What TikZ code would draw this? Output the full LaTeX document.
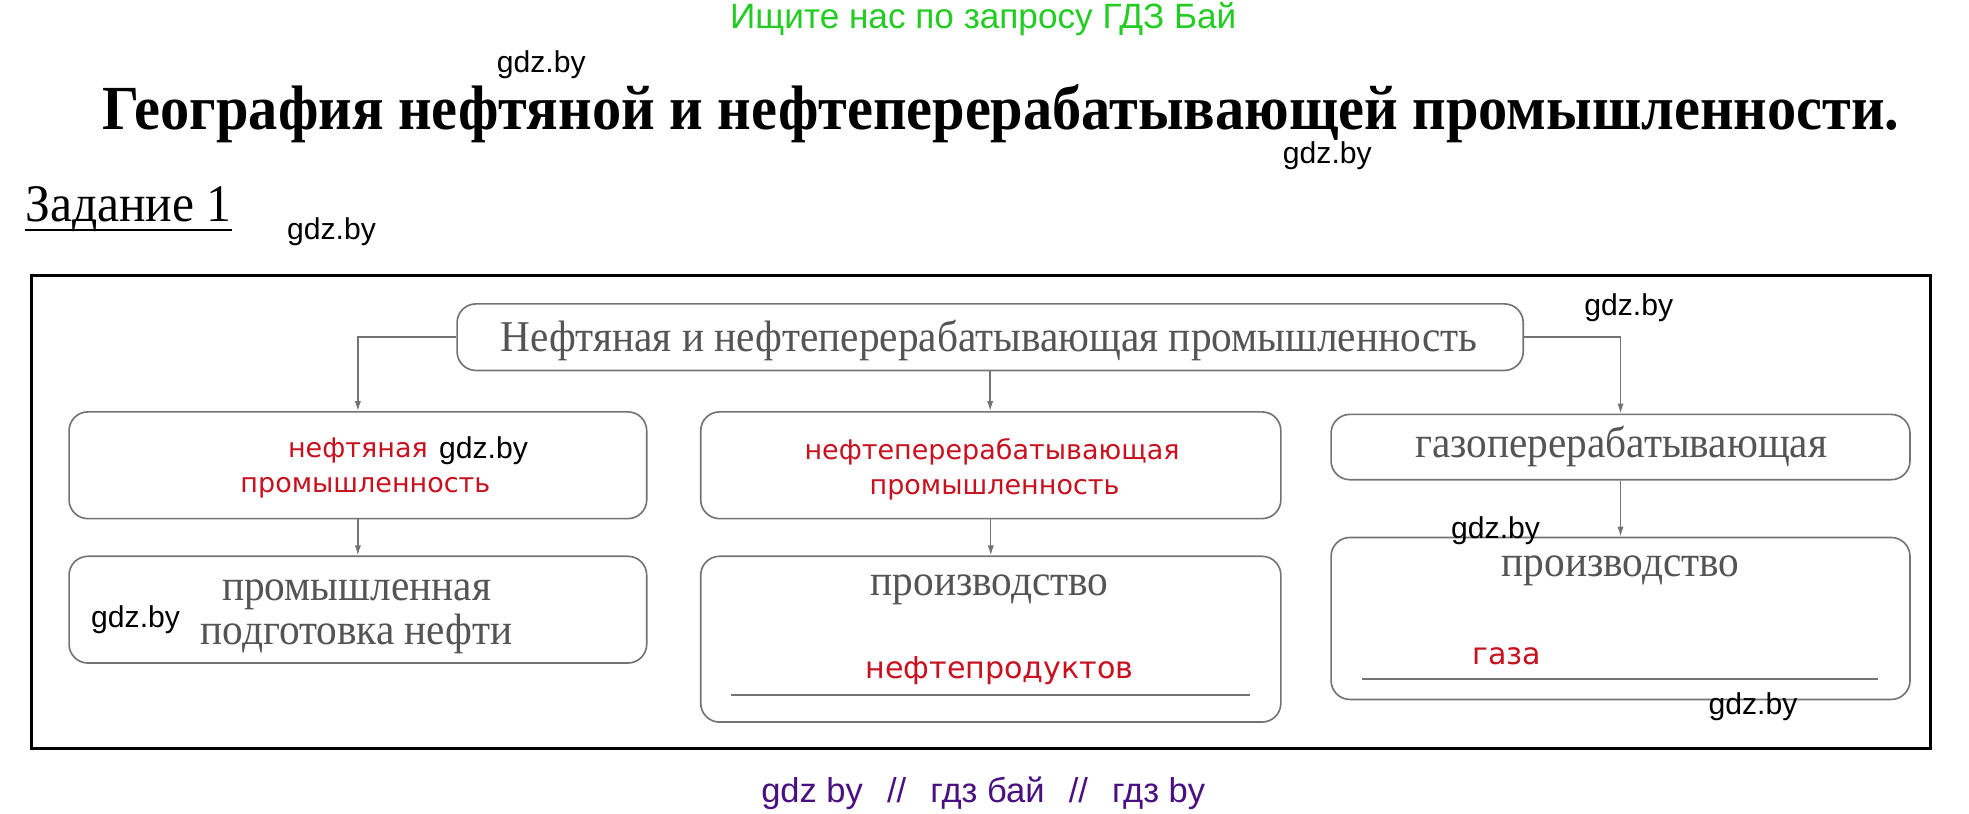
\documentclass[tikz,border=0pt]{standalone}
\usepackage{fontspec}
\usepackage{xcolor}
\setmainfont{Liberation Serif}
\newfontfamily\condSerif[FakeStretch=0.94]{Liberation Serif}
\newfontfamily\titleSerif[FakeStretch=0.93]{Liberation Serif}
\newfontfamily\wmfont{Liberation Sans}
\newfontfamily\redfont{DejaVu Sans}
\definecolor{boxGray}{gray}{0.45}
\definecolor{txtGray}{gray}{0.33}
\definecolor{ansRed}{RGB}{200,16,30}
\definecolor{siteGreen}{RGB}{34,204,34}
\definecolor{sitePurple}{RGB}{74,16,130}
\usetikzlibrary{arrows.meta,calc}
\tikzset{
  box/.style={draw=boxGray, line width=1.3pt, rounded corners=15pt, inner sep=0pt},
  arr/.style={draw=boxGray, line width=1.1pt, -{Latex[length=8pt,width=5pt]}},
  grayText/.style={text=txtGray, anchor=base, inner sep=0pt, font=\condSerif\fontsize{35}{38}\selectfont},
  redText/.style={text=ansRed, anchor=base, inner sep=0pt, font=\redfont\fontsize{21.5}{24}\selectfont},
  wm/.style={anchor=base, inner sep=0pt, font=\wmfont\fontsize{24}{26}\selectfont}
}

\begin{document}
\begin{tikzpicture}[x=1pt, y=-1pt]
        \useasboundingbox (0,0) rectangle (1568,648.2);
        % header
        \node [anchor=base, inner sep=0pt, text=siteGreen, font=\wmfont\fontsize{28}{30}\selectfont] (site) at (783,23) {Ищите нас по запросу ГДЗ Бай};
        \node [anchor=base, inner sep=0pt, font=\titleSerif\bfseries\fontsize{50}{54}\selectfont] (title) at (797,103) {География нефтяной и нефтеперерабатывающей промышленности.};
        \node [anchor=base west, inner sep=0pt, font=\condSerif\fontsize{42}{44}\selectfont] (task) at (20,176) {Задание 1};
        \draw [line width=2pt] (task.base west) ++(0,7) -- ($(task.base east)+(0,7)$);
        % frame
        \draw [line width=2.4pt] (25,219) rectangle (1537,596);
        % boxes
        \node [box, minimum width=849pt, minimum height=53pt] (top) at (788.5,268.5) {};
        \node [box, minimum width=460pt, minimum height=85pt] (b1) at (285,370.5) {};
        \node [box, minimum width=462pt, minimum height=85pt] (b2) at (789,370.5) {};
        \node [box, minimum width=461pt, minimum height=52pt] (b3) at (1290.5,356) {};
        \node [box, minimum width=460pt, minimum height=85pt] (b4) at (285,485.5) {};
        \node [box, minimum width=462pt, minimum height=132pt] (b5) at (789,509) {};
        \node [box, minimum width=461pt, minimum height=129pt] (b6) at (1290.5,492.5) {};
        % arrows
        \draw [arr] (top.west) -| (b1.north);
        \draw [arr] (top.east) -| (b3.north);
        \draw [arr] (top.south) -- (top.south |- b2.north);
        \draw [arr] (b1.south) -- (b4.north);
        \draw [arr] (b2.south) -- (b5.north);
        \draw [arr] (b3.south) -- (b6.north);
        % answer lines
        \draw [boxGray, line width=1.2pt] ($(b5.south west)+(25,-22)$) -- ($(b5.south east)+(-25,-22)$);
        \draw [boxGray, line width=1.2pt] ($(b6.south west)+(25,-17)$) -- ($(b6.south east)+(-26,-17)$);
        % texts
        \node [grayText] (tTop) at (787.5,280) {Нефтяная и нефтеперерабатывающая промышленность};
        \node [redText] (r1a) at (285,364) {нефтяная};
        \node [redText] (r1b) at (291,392) {промышленность};
        \node [redText] (r2a) at (790,366) {нефтеперерабатывающая};
        \node [redText] (r2b) at (792,394) {промышленность};
        \node [grayText] (t3) at (1291,364) {газоперерабатывающая};
        \node [grayText] (t4a) at (284,478) {промышленная};
        \node [grayText] (t4b) at (284,513) {подготовка нефти};
        \node [grayText] (t5) at (788,474) {производство};
        \node [redText, font=\redfont\fontsize{24}{26}\selectfont] (r5) at (796,540) {нефтепродуктов};
        \node [grayText] (t6) at (1290.5,459) {производство};
        \node [redText, font=\redfont\fontsize{24}{26}\selectfont] (r6) at (1200,529) {газа};
        % watermarks
        \node [wm] (w1) at (431,58) {gdz.by};
        \node [wm] (w2) at (1057,130) {gdz.by};
        \node [wm] (w3) at (264,191) {gdz.by};
        \node [wm] (w4) at (1297,251) {gdz.by};
        \node [wm] (w5) at (385,365) {gdz.by};
        \node [wm] (w6) at (108,500) {gdz.by};
        \node [wm] (w7) at (1191,429) {gdz.by};
        \node [wm] (w8) at (1396,569) {gdz.by};
        \node [wm, text=sitePurple, font=\wmfont\fontsize{27.5}{30}\selectfont] (foot) at (783,639) {gdz by\hspace{0.7em}//\hspace{0.7em}гдз бай\hspace{0.7em}//\hspace{0.7em}гдз by};
      \end{tikzpicture}
\end{document}
